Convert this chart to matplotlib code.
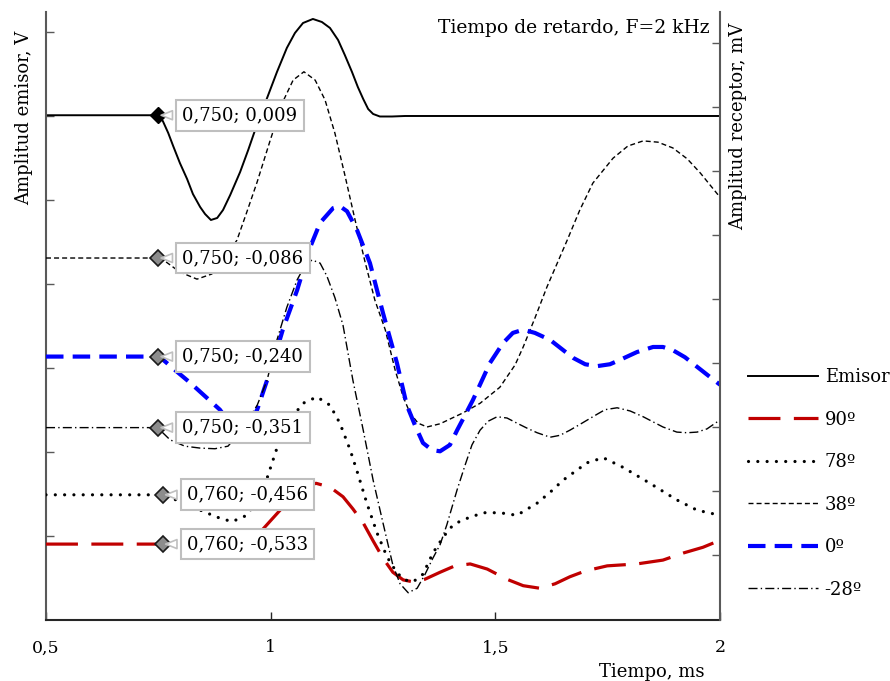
import matplotlib
matplotlib.use("Agg")
import matplotlib.pyplot as plt
from matplotlib.lines import Line2D

plt.rcParams['font.family'] = ['DejaVu Serif']

# ---------------- data ----------------
t_emisor = [0.5, 0.743, 0.749, 0.760, 0.772, 0.783, 0.798, 0.814, 0.827, 0.843, 0.854, 0.867, 0.881,
            0.894, 0.910, 0.932, 0.950, 0.970, 0.992, 1.014, 1.036, 1.054, 1.072, 1.094, 1.114, 1.132,
            1.150, 1.165, 1.181, 1.194, 1.206, 1.217, 1.228, 1.243, 1.270, 1.299, 2.0]
v_emisor = [0.009, 0.009, 0.009, -0.060, -0.202, -0.357, -0.560, -0.750, -0.929, -1.083, -1.167, -1.238, -1.214,
            -1.119, -0.940, -0.667, -0.405, -0.095, 0.214, 0.524, 0.810, 0.988, 1.107, 1.155, 1.119, 1.048,
            0.905, 0.726, 0.524, 0.345, 0.202, 0.083, 0.024, -0.006, -0.006, 0.0, 0.0]

t_90 = [0.5, 0.754, 0.794, 0.836, 0.876, 0.921, 0.959, 0.981, 0.999, 1.021, 1.048, 1.074, 1.101, 1.132,
        1.161, 1.183, 1.206, 1.228, 1.250, 1.272, 1.295, 1.317, 1.343, 1.377, 1.410, 1.444, 1.482, 1.526,
        1.562, 1.599, 1.633, 1.666, 1.700, 1.749, 1.815, 1.873, 1.918, 1.962, 2.0]
v_90 = [-0.533, -0.533, -0.541, -0.547, -0.550, -0.545, -0.527, -0.511, -0.497, -0.480, -0.459, -0.444, -0.438, -0.444,
        -0.459, -0.478, -0.500, -0.528, -0.555, -0.577, -0.589, -0.592, -0.588, -0.577, -0.567, -0.564, -0.572, -0.588,
        -0.598, -0.602, -0.595, -0.584, -0.575, -0.567, -0.564, -0.558, -0.547, -0.538, -0.527]

t_78 = [0.5, 0.754, 0.780, 0.814, 0.847, 0.881, 0.914, 0.947, 0.970, 0.992, 1.014, 1.043, 1.072, 1.103,
        1.132, 1.154, 1.177, 1.194, 1.214, 1.237, 1.259, 1.281, 1.299, 1.317, 1.339, 1.361, 1.384, 1.406,
        1.428, 1.473, 1.510, 1.548, 1.593, 1.622, 1.651, 1.704, 1.740, 1.784, 1.844, 1.904, 1.949, 2.0]
v_78 = [-0.456, -0.456, -0.461, -0.472, -0.481, -0.491, -0.498, -0.488, -0.464, -0.430, -0.383, -0.339, -0.313, -0.303,
        -0.316, -0.344, -0.386, -0.423, -0.469, -0.516, -0.553, -0.578, -0.589, -0.592, -0.580, -0.547, -0.522, -0.503,
        -0.495, -0.484, -0.484, -0.488, -0.469, -0.452, -0.433, -0.406, -0.398, -0.413, -0.438, -0.464, -0.480, -0.488]

t_38 = [0.5, 0.743, 0.765, 0.798, 0.836, 0.869, 0.898, 0.925, 0.947, 0.970, 0.999, 1.027, 1.050, 1.074,
        1.099, 1.121, 1.143, 1.165, 1.188, 1.210, 1.232, 1.255, 1.277, 1.295, 1.310, 1.328, 1.348, 1.377,
        1.428, 1.466, 1.510, 1.544, 1.562, 1.588, 1.615, 1.660, 1.688, 1.717, 1.762, 1.795, 1.829, 1.862,
        1.895, 1.927, 1.956, 1.978, 2.0]
v_38 = [-0.086, -0.086, -0.091, -0.108, -0.119, -0.111, -0.086, -0.058, -0.014, 0.033, 0.098, 0.158, 0.192, 0.205,
        0.192, 0.161, 0.109, 0.044, -0.027, -0.092, -0.152, -0.198, -0.261, -0.303, -0.328, -0.344, -0.350, -0.345,
        -0.328, -0.313, -0.288, -0.253, -0.225, -0.180, -0.131, -0.058, -0.011, 0.031, 0.070, 0.089, 0.097, 0.095,
        0.086, 0.069, 0.047, 0.028, 0.009]

t_0 = [0.5, 0.743, 0.754, 0.787, 0.821, 0.854, 0.887, 0.910, 0.930, 0.950, 0.970, 0.992, 1.010, 1.027,
       1.059, 1.088, 1.110, 1.139, 1.154, 1.170, 1.192, 1.221, 1.250, 1.281, 1.303, 1.321, 1.339, 1.359,
       1.377, 1.399, 1.415, 1.433, 1.450, 1.473, 1.488, 1.517, 1.539, 1.562, 1.588, 1.622, 1.673, 1.700,
       1.726, 1.755, 1.778, 1.815, 1.851, 1.873, 1.895, 1.922, 1.949, 1.978, 2.0]
v_0 = [-0.240, -0.240, -0.241, -0.261, -0.281, -0.302, -0.323, -0.345, -0.358, -0.350, -0.323, -0.277, -0.238, -0.198,
       -0.136, -0.069, -0.031, -0.008, -0.005, -0.013, -0.042, -0.094, -0.172, -0.250, -0.316, -0.347, -0.375, -0.386,
       -0.388, -0.378, -0.355, -0.331, -0.308, -0.273, -0.250, -0.219, -0.203, -0.198, -0.203, -0.214, -0.242, -0.252,
       -0.255, -0.252, -0.245, -0.233, -0.225, -0.225, -0.230, -0.241, -0.256, -0.272, -0.284]

t_m28 = [0.5, 0.743, 0.754, 0.776, 0.809, 0.843, 0.876, 0.905, 0.932, 0.954, 0.970, 0.992, 1.014, 1.036,
         1.059, 1.076, 1.092, 1.110, 1.125, 1.143, 1.161, 1.183, 1.206, 1.228, 1.250, 1.272, 1.288, 1.306,
         1.326, 1.343, 1.361, 1.377, 1.392, 1.415, 1.433, 1.448, 1.466, 1.484, 1.504, 1.526, 1.548, 1.571,
         1.593, 1.622, 1.644, 1.666, 1.693, 1.717, 1.744, 1.771, 1.800, 1.829, 1.851, 1.873, 1.904, 1.927,
         1.949, 1.971, 2.0]
v_m28 = [-0.351, -0.351, -0.355, -0.370, -0.380, -0.383, -0.384, -0.380, -0.358, -0.334, -0.316, -0.277, -0.214, -0.163,
         -0.120, -0.098, -0.089, -0.094, -0.114, -0.148, -0.191, -0.277, -0.355, -0.433, -0.500, -0.566, -0.595, -0.609,
         -0.602, -0.581, -0.555, -0.534, -0.503, -0.448, -0.409, -0.378, -0.355, -0.341, -0.334, -0.336, -0.344, -0.352,
         -0.359, -0.366, -0.363, -0.355, -0.344, -0.334, -0.323, -0.320, -0.325, -0.334, -0.342, -0.350, -0.358, -0.359,
         -0.358, -0.353, -0.339]

legend_labels = ["Emisor", "90º", "78º", "38º", "0º", "-28º"]

# annotation points
ann_emisor = (0.750, 0.009, "0,750; 0,009")
ann_receptor = [(0.750, -0.086, "0,750; -0,086"),
                (0.750, -0.240, "0,750; -0,240"),
                (0.750, -0.351, "0,750; -0,351"),
                (0.760, -0.456, "0,760; -0,456"),
                (0.760, -0.533, "0,760; -0,533")]

xticks = [0.5, 1.0, 1.5, 2.0]
xticklabels = ["0,5", "1", "1,5", "2"]

# ---------------- figure ----------------
W, H = 890, 681
fig = plt.figure(figsize=(W / 100, H / 100), dpi=100)
L, R, T, B = 46, 720, 12, 620
ax = fig.add_axes([L / W, 1 - B / H, (R - L) / W, (B - T) / H])
ax2 = ax.twinx()

RED = '#C00000'
BLUE = '#0000FF'

styles = {
    "Emisor": dict(color='black', lw=1.4, ls='-'),
    "90º": dict(color=RED, lw=2.3, ls=(0, (10.0, 4.2)), dash_capstyle='butt'),
    "78º": dict(color='black', lw=2.3, ls=(0, (0.01, 2.9)), dash_capstyle='round'),
    "38º": dict(color='black', lw=1.0, ls=(0, (3.6, 2.2))),
    "0º": dict(color=BLUE, lw=3.0, ls=(0, (4.2, 2.2)), dash_capstyle='butt'),
    "-28º": dict(color='black', lw=1.0, ls=(0, (6.5, 2.3, 1.0, 2.3))),
}

ax.plot(t_emisor, v_emisor, **styles["Emisor"])
ax2.plot(t_90, v_90, **styles["90º"])
ax2.plot(t_78, v_78, **styles["78º"])
ax2.plot(t_38, v_38, **styles["38º"])
ax2.plot(t_0, v_0, **styles["0º"])
ax2.plot(t_m28, v_m28, **styles["-28º"])

ax.set_xlim(0.5, 2.0)
ax.set_ylim(-6.0, 1.238)
ax2.set_ylim(-0.6516, 0.2984)

ax.set_xticks(xticks)
ax.set_xticklabels(xticklabels, fontsize=12.5)
ax.set_yticks(list(range(-5, 2)))
ax2.set_yticks([-0.55 + 0.1 * i for i in range(9)])
ax.tick_params(axis='y', direction='in', length=6, width=1, color='#595959', labelleft=False)
ax2.tick_params(axis='y', direction='in', length=6, width=1, color='#595959', labelright=False)
ax.tick_params(axis='x', direction='in', length=6, width=1, color='#262626', pad=14)

for a in (ax, ax2):
    a.spines['top'].set_visible(False)
ax.spines['right'].set_visible(False)
ax2.spines['left'].set_visible(False)
ax2.spines['bottom'].set_visible(False)
ax.spines['left'].set_color('#595959')
ax.spines['left'].set_linewidth(1.5)
ax2.spines['right'].set_color('#595959')
ax2.spines['right'].set_linewidth(1.5)
ax.spines['bottom'].set_color('#262626')
ax.spines['bottom'].set_linewidth(1.5)

ax.set_ylabel("Amplitud emisor, V", fontsize=13)
ax.yaxis.set_label_coords(-0.0193, 0.826)
ax2.set_ylabel("Amplitud receptor, mV", fontsize=13)
ax2.yaxis.set_label_coords(1.0134, 0.8125)
ax.set_xlabel("Tiempo, ms", fontsize=13)
ax.xaxis.set_label_coords(0.898, -0.0707)

ax.text(0.985, 0.974, "Tiempo de retardo, F=2 kHz", transform=ax.transAxes,
        ha='right', va='center', fontsize=13.5)

# markers and callouts
bbox = dict(boxstyle='square,pad=0.35', fc='white', ec='#BFBFBF', lw=1.5)
arrow = dict(arrowstyle='wedge,tail_width=0.5,shrink_factor=0.5', fc='white', ec='#BFBFBF', lw=1.2)

ax.plot([ann_emisor[0]], [ann_emisor[1]], marker='D', ms=8, mfc='black', mec='black', zorder=5)
ax2.annotate(ann_emisor[2], xy=(ann_emisor[0], ann_emisor[1]), xycoords=ax.transData,
             xytext=(24, 0), textcoords='offset pixels', ha='left', va='center', fontsize=13,
             bbox=bbox, arrowprops=arrow, zorder=10)
for x, y, lab in ann_receptor:
    ax2.plot([x], [y], marker='D', ms=8, mfc='#8C8C8C', mec='#1a1a1a', mew=1.2, zorder=6)
    ax2.annotate(lab, xy=(x, y), xytext=(24, 0), textcoords='offset pixels',
                 ha='left', va='center', fontsize=13, bbox=bbox, arrowprops=arrow, zorder=10)

# legend
handles = [Line2D([], [], **styles[k]) for k in legend_labels]
fig.legend(handles, legend_labels, loc='upper left', bbox_to_anchor=(748 / W, 1 - 368 / H),
           frameon=False, fontsize=13, handlelength=3.9, handletextpad=0.35,
           labelspacing=1.36, borderpad=0, borderaxespad=0)

fig.savefig("out.png", dpi=100)
